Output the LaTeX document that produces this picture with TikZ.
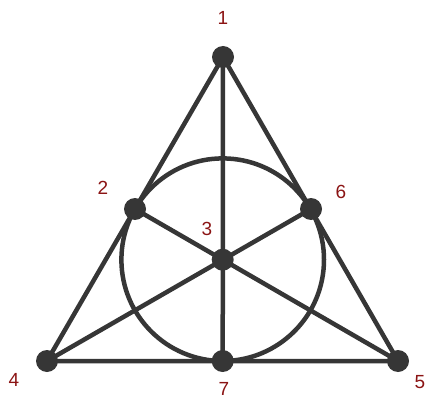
\documentclass[tikz,border=0pt]{standalone}
\usepackage{fontspec}
\setmainfont{Liberation Sans}
\definecolor{ln}{HTML}{363636}
\definecolor{lab}{HTML}{8B1414}
\begin{document}
\begin{tikzpicture}[x=1pt,y=-1pt,
  pt/.style={circle,fill=ln,inner sep=0pt,minimum size=22pt},
  lbl/.style={text=lab,font=\fontsize{19}{19}\selectfont,inner sep=0pt},
  edge/.style={draw=ln,line width=4.5pt}]
\useasboundingbox (0,0) rectangle (425,398);
\coordinate (p1) at (223,57);
\coordinate (p2) at (135,209);
\coordinate (p3) at (222.7,259.7);
\coordinate (p6) at (311,209);
\coordinate (p4) at (47,361);
\coordinate (p7) at (222.7,361);
\coordinate (p5) at (398,361);
\draw[edge] (p3) circle (101.3);
\draw[edge,line join=round] (p1) -- (p4) -- (p5) -- cycle;
\draw[edge] (p1) -- (p7);
\draw[edge] (p4) -- (p6);
\draw[edge] (p5) -- (p2);
\foreach \p in {p1,p2,p3,p4,p5,p6,p7} \node[pt] (n\p) at (\p) {};
\node[lbl] (l1) at (223,18) {1};
\node[lbl] (l2) at (103,188) {2};
\node[lbl] (l3) at (207,229) {3};
\node[lbl] (l6) at (341,192) {6};
\node[lbl] (l4) at (14,380) {4};
\node[lbl] (l7) at (224,389) {7};
\node[lbl] (l5) at (420,382) {5};
\end{tikzpicture}
\end{document}
